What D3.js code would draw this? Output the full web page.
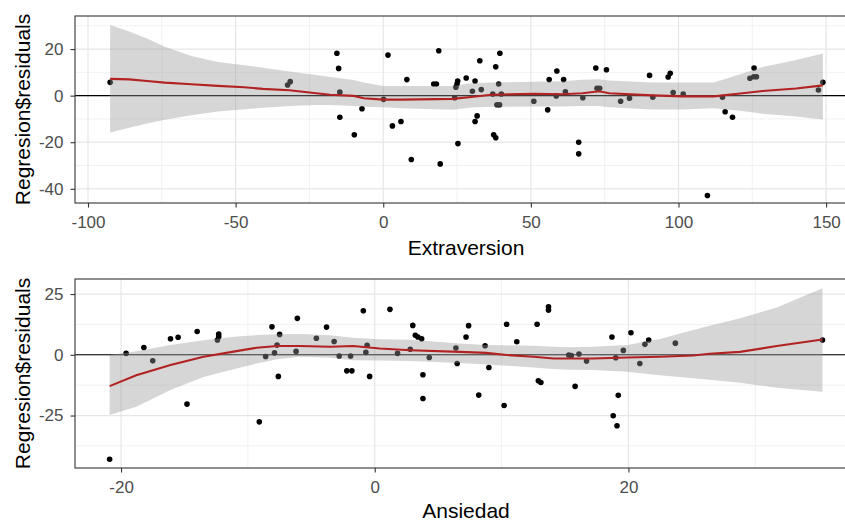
<!DOCTYPE html>
<html>
<head>
<meta charset="utf-8">
<script src="https://cdn.jsdelivr.net/npm/d3@7"></script>
<style>
  html, body { margin: 0; padding: 0; background: #fff; }
  svg { display: block; font-family: "Liberation Sans", Arial, sans-serif; }
</style>
</head>
<body>
<svg id="chart" width="845" height="520"></svg>
<script>
// ---- Residuals vs Extraversion ----
const extraX = [-92.5,-32.4,-31.5,-15.7,-15.1,-14.7,-14.7,-9.8,-7.2,1.6,0.1,3.1,6,8,9.5,17.1,18,18.8,19.3,25.2,25,24.6,24.2,25.3,28.1,31.1,30.2,33.2,32.7,31.8,31.1,38.1,39.5,39.1,37.1,40,38.5,39.4,37.4,38.1,51,55.7,56.2,58.8,58.6,61.1,61.7,66.2,66.2,67.6,72,72.4,73.3,75.6,80.4,83.4,90.2,91.3,96.5,97.2,98.2,101.6,109.8,114.9,115.8,118.3,124.2,125.5,126.4,125.6,147.4,148.9];
const extraResid = [5.7,4.6,6.0,18.2,11.7,1.5,-9.3,-16.8,-5.6,17.4,-1.6,-13,-11.1,6.9,-27.4,5,5,19.3,-29.3,6.3,5,3.6,-0.9,-20.6,7.6,6.3,1.9,2.6,15,-8.7,-11.1,12.4,18.2,5,0.7,0.7,-3.9,-3.9,-16.8,-18.1,-2.4,-6.1,6.9,10.6,-0.1,6.9,1.7,-20,-25,-0.9,11.9,3.2,3.2,11.1,-2.4,-1.1,8.7,-0.7,8,9.6,1.3,0.7,-42.9,-0.7,-6.9,-9.3,7.5,8.1,8.1,11.9,2.4,5.7];

// loess fit with confidence band
const extraFitX   = [-92.5,-86,-80,-74,-65,-56,-47,-40.8,-31.8,-22.7,-18,-10,-6.6,0,6,23.5,29.8,36.6,51.3,60.7,67.5,73.1,76.5,91.2,101.4,112,121.7,128.5,139.8,148.9];
const extraFit    = [7.2,7.0,6.3,5.6,4.9,4.2,3.6,2.9,2.3,1.0,0.4,-0.1,-1.1,-1.7,-1.7,-1.4,-0.6,0.4,0.8,0.6,1.0,1.9,1.0,0.1,-0.3,-0.3,1.0,2.0,3.1,4.4];
const extraUpper  = [30.3,27.5,24.5,21.0,17.0,14.5,13.0,12.0,10.4,8.9,8.0,6.7,5.6,4.1,4.1,4.1,5.3,5.6,6.0,6.2,6.8,7.0,6.5,5.6,5.6,5.6,9.5,12.3,15.3,18.1];
const extraLower  = [-15.8,-13.8,-12.0,-10.4,-8.4,-6.8,-5.8,-5.2,-4.4,-4.0,-4.0,-4.5,-4.8,-5.0,-5.4,-6.1,-5.1,-4.8,-4.7,-4.7,-4.5,-4.4,-5.0,-5.9,-5.9,-5.4,-6.6,-7.8,-9.0,-10.2];

// ---- Residuals vs Ansiedad ----
const ansX = [-20.9,-19.6,-18.2,-17.5,-16.1,-15.5,-14.8,-14,-12.4,-12.3,-12.3,-9.1,-8.6,-8.1,-7.9,-7.7,-7.5,-7.6,-6.1,-6.2,-4.6,-3.8,-3.2,-2.8,-1.9,-2.2,-1.8,-0.9,-0.6,-0.7,-0.4,1.2,1.8,3,3.2,3.4,3.7,2.8,3.8,3.8,4.3,6.4,6.5,7.2,7.4,8.2,8.7,9,10.2,10.4,11.2,12.8,12.9,13.1,13.7,13.7,15.3,15.5,16.1,16.7,15.8,18.7,19,18.8,19.1,19.2,19.6,20.2,20.9,21.3,21.6,23.7,35.3];
const ansResid = [-43,0.6,3,-2.5,6.6,7.2,-20.3,9.6,6.1,7.4,8.5,-27.6,-0.7,11.5,0.8,4,8.4,-8.9,15,1.4,6.8,11.4,5.5,-0.5,-0.5,-6.6,-6.6,18.1,3.9,1,-8.9,18.7,0.6,12.1,8,7.3,6.6,2.3,-8.2,-18,-1.1,2.8,-3.6,7.3,12,-16.6,3.7,-5.2,-20.9,12.6,5.4,12.6,-10.7,-11.4,19.8,18.4,-0.1,-0.3,0.3,-2.6,-13,7.3,-1.2,-25.1,-29.2,-16.7,1.8,9.1,-3.6,4.3,6.1,4.8,6.1];

const ansFitX  = [-20.9,-18.8,-16.1,-13.5,-10.9,-9.3,-7.7,-5.9,-3.5,-1.7,0.4,2.8,6.7,8.8,10.4,12.5,14.1,15.4,17.2,19.9,22.5,25.1,26.4,28.8,31.7,35.3];
const ansFit   = [-12.9,-8.4,-4.2,-0.8,1.5,2.9,3.6,3.6,3.3,3.6,2.6,1.9,1.2,0.8,-0.1,-0.8,-1.5,-1.5,-1.5,-1.1,-0.8,-0.3,0.4,1.2,3.6,6.3];
const ansUpper = [-0.1,1.5,4.0,6.0,7.5,8.1,8.5,8.6,8.0,7.0,6.4,6.2,4.6,4.0,3.9,3.7,3.3,3.1,3.3,4.0,6.5,10.2,12.0,15.0,19.5,27.4];
const ansLower = [-24.8,-21.4,-14.5,-9.1,-5.6,-3.6,-1.8,-0.8,-1.2,-2.2,-2.3,-2.6,-3.4,-4.0,-4.5,-5.2,-5.8,-6.2,-6.3,-7.0,-8.4,-9.7,-10.3,-11.5,-13.6,-15.2];

// Axis ticks and labels
const extraXTicks = [-100,-50,0,50,100,150];
const extraXMinor = [-75,-25,25,75,125];
const extraYTicks = [-40,-20,0,20];
const extraYMinor = [-30,-10,10,30];
const ansXTicks = [-20,0,20];
const ansXMinor = [-10,10,30];
const ansYTicks = [-25,0,25];
const ansYMinor = [-37.5,-12.5,12.5];

const svg = d3.select("#chart");

function drawPanel(cfg) {
  const { top, bottom, left, right, xDomain, yDomain } = cfg;
  const x = d3.scaleLinear().domain(xDomain).range([left, right]);
  const y = d3.scaleLinear().domain(yDomain).range([bottom, top]);
  const g = svg.append("g");
  const clipId = "clip-" + cfg.id;
  svg.append("clipPath").attr("id", clipId)
    .append("rect").attr("x", left).attr("y", top)
    .attr("width", right - left).attr("height", bottom - top);

  const plot = g.append("g").attr("clip-path", `url(#${clipId})`);

  // grid: minor then major
  plot.selectAll(".vminor").data(cfg.xMinor).join("line")
    .attr("x1", d => x(d)).attr("x2", d => x(d))
    .attr("y1", top).attr("y2", bottom)
    .attr("stroke", "#ebebeb").attr("stroke-width", 0.7);
  plot.selectAll(".hminor").data(cfg.yMinor).join("line")
    .attr("y1", d => y(d)).attr("y2", d => y(d))
    .attr("x1", left).attr("x2", right)
    .attr("stroke", "#ebebeb").attr("stroke-width", 0.7);
  plot.selectAll(".vmajor").data(cfg.xTicks).join("line")
    .attr("x1", d => x(d)).attr("x2", d => x(d))
    .attr("y1", top).attr("y2", bottom)
    .attr("stroke", "#e6e6e6").attr("stroke-width", 1.2);
  plot.selectAll(".hmajor").data(cfg.yTicks).join("line")
    .attr("y1", d => y(d)).attr("y2", d => y(d))
    .attr("x1", left).attr("x2", right)
    .attr("stroke", "#e6e6e6").attr("stroke-width", 1.2);

  // points
  const pts = cfg.xs.map((v, i) => [v, cfg.ys[i]]);
  plot.selectAll(".pt").data(pts).join("circle")
    .attr("cx", d => x(d[0])).attr("cy", d => y(d[1]))
    .attr("r", 2.8).attr("fill", "#000");

  // zero reference line
  plot.append("line")
    .attr("x1", left).attr("x2", right)
    .attr("y1", y(0)).attr("y2", y(0))
    .attr("stroke", "#000").attr("stroke-width", 1.1);

  // confidence band
  const band = cfg.fitX.map((v, i) => [v, cfg.lower[i], cfg.upper[i]]);
  plot.append("path").datum(band)
    .attr("d", d3.area().x(d => x(d[0])).y0(d => y(d[1])).y1(d => y(d[2])))
    .attr("fill", "#999999").attr("fill-opacity", 0.4);

  // smooth line
  const fit = cfg.fitX.map((v, i) => [v, cfg.fit[i]]);
  plot.append("path").datum(fit)
    .attr("d", d3.line().x(d => x(d[0])).y(d => y(d[1])))
    .attr("fill", "none").attr("stroke", "#b22222").attr("stroke-width", 2.1);

  // border
  g.append("rect").attr("x", left).attr("y", top)
    .attr("width", right - left).attr("height", bottom - top)
    .attr("fill", "none").attr("stroke", "#333").attr("stroke-width", 1.1);

  // axes
  const fmt = d3.format("d");
  const xAxis = d3.axisBottom(x).tickValues(cfg.xTicks).tickSize(4.5).tickPadding(8.7).tickFormat(fmt);
  const yAxis = d3.axisLeft(y).tickValues(cfg.yTicks).tickSize(4.5).tickPadding(7).tickFormat(fmt);
  const gx = g.append("g").attr("transform", `translate(0,${bottom})`).call(xAxis);
  const gy = g.append("g").attr("transform", `translate(${left},0)`).call(yAxis);
  [gx, gy].forEach(a => {
    a.select(".domain").remove();
    a.selectAll(".tick line").attr("stroke", "#333").attr("stroke-width", 1.1);
    a.selectAll(".tick text").attr("fill", "#4d4d4d").style("font-size", "17px")
      .text(d => fmt(d).replace("\u2212", "-"));
  });

  // titles
  g.append("text").attr("x", 466).attr("y", cfg.titleY)
    .attr("text-anchor", "middle").style("font-size", "21px").attr("fill", "#000")
    .text(cfg.xTitle);
  g.append("text")
    .attr("transform", `translate(30,${(top + bottom) / 2}) rotate(-90)`)
    .attr("text-anchor", "middle").style("font-size", "21px").attr("fill", "#000")
    .text("Regresion$residuals");
}

drawPanel({
  id: "extra", top: 16, bottom: 203, left: 75, right: 858,
  xDomain: [-104.4, 160.8], yDomain: [-46.1, 34.2],
  xTicks: extraXTicks, xMinor: extraXMinor, yTicks: extraYTicks, yMinor: extraYMinor,
  xs: extraX, ys: extraResid,
  fitX: extraFitX, fit: extraFit, upper: extraUpper, lower: extraLower,
  xTitle: "Extraversion", titleY: 255
});

drawPanel({
  id: "ans", top: 279, bottom: 468, left: 75, right: 858,
  xDomain: [-23.63, 38.1], yDomain: [-46.6, 31.2],
  xTicks: ansXTicks, xMinor: ansXMinor, yTicks: ansYTicks, yMinor: ansYMinor,
  xs: ansX, ys: ansResid,
  fitX: ansFitX, fit: ansFit, upper: ansUpper, lower: ansLower,
  xTitle: "Ansiedad", titleY: 517.5
});
</script>
</body>
</html>
